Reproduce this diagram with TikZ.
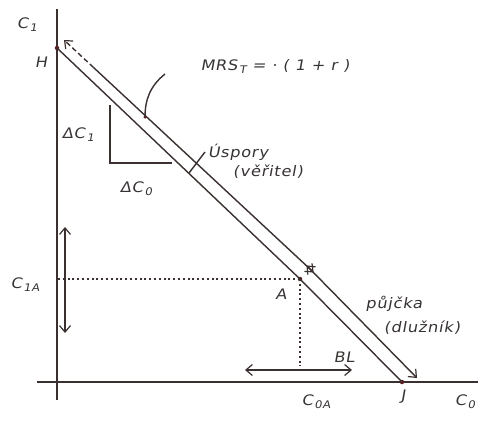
\documentclass[tikz,border=0pt]{standalone}
\usepackage{fontspec}
\setmainfont{Liberation Sans}
\newfontfamily\handfont[FakeStretch=1.12,FakeSlant=0.18,LetterSpace=5]{DejaVu Sans}
\usetikzlibrary{arrows.meta,calc}
\definecolor{ink}{HTML}{3A3030}
\definecolor{dotc}{HTML}{5A2020}
\definecolor{txt}{HTML}{383434}
\newcommand{\sbx}[1]{\kern1.5pt\raisebox{-3pt}{\fontsize{10.5}{12}\selectfont #1}}
\begin{document}
\begin{tikzpicture}[x=1pt,y=-1pt,
  line/.style={draw=ink,line width=1.4pt},
  axis/.style={draw=ink,line width=1.6pt},
  lab/.style={text=txt,font=\fontsize{14.5}{16}\selectfont\handfont,inner sep=0.5pt},
  pt/.style={circle,fill=dotc,inner sep=0pt,minimum size=4.5pt},
  dots/.style={draw=ink,line width=1.4pt,dash pattern=on 2pt off 2.8pt},
  barb/.tip={Straight Barb[length=6.5pt,width=11pt,line width=1.2pt]}]
\useasboundingbox (0,0) rectangle (478,423);
% axes
\coordinate (Ytop) at (57,9);
\coordinate (Ybot) at (57,400);
\coordinate (Xl) at (37,382);
\coordinate (Xr) at (478,382);
\draw[axis] (Ytop) -- (Ybot);
\draw[axis] (Xl) -- (Xr);
% points
\node[pt] (H) at (57,48) {};
\node[pt] (A) at (300,279) {};
\node[pt] (J) at (402,382) {};
% budget line
\draw[line] (H.center) -- (A.center) -- (J.center);
% upper parallel arrows
\coordinate (UH) at (64,40);
\coordinate (UA) at (310,269);
\coordinate (UJ) at (417,378);
\coordinate (UA1) at ($(UA)!-5pt!(UH)$);
\coordinate (UA2) at ($(UA)!-5pt!(UJ)$);
\coordinate (UP) at ($(UH)!0.12!(UA)$);
\draw[line,dash pattern=on 5pt off 3pt,-barb] (UP) -- (UH);
\draw[line,-barb] (UP) -- (UA1);
\draw[line,barb-barb] (UA2) -- (UJ);
% dotted guides
\coordinate (C1Aaxis) at (57,279);
\coordinate (C0Aend) at (300,366);
\draw[dots] (A.center) -- (C1Aaxis);
\draw[dots] (A.center) -- (C0Aend);
% double arrows
\coordinate (va1) at (65,227);
\coordinate (va2) at (65,333);
\draw[line,barb-barb] (va1) -- (va2);
\coordinate (ha1) at (245,370);
\coordinate (ha2) at (352,370);
\draw[line,barb-barb] (ha1) -- (ha2);
% slope triangle
\coordinate (t1) at (110,105);
\coordinate (t2) at (110,163);
\coordinate (t3) at (172,163);
\draw[line] (t1) -- (t2) -- (t3);
% MRS leader
\coordinate (m1) at (165,74);
\node[circle,fill=dotc,inner sep=0pt,minimum size=3.5pt] (m2) at (145,117) {};
\draw[line] (m1) .. controls (150,86) and (145,100) .. (m2.center);
% uspory tick
\coordinate (u1) at (205,152);
\coordinate (u2) at (189,173);
\draw[line] (u1) -- (u2);
% labels
\node[lab] (lC1) at (27,25) {C\sbx{1}};
\node[lab] (lH) at (41,62) {H};
\node[lab] (lMRS) at (275,66) {MRS\sbx{T} = · ( 1 + r )};
\node[lab] (lDC1) at (78,135) {ΔC\sbx{1}};
\node[lab] (lDC0) at (136,189) {ΔC\sbx{0}};
\node[lab] (lUsp) at (238,152) {Úspory};
\node[lab] (lVer) at (268,172) {(věřitel)};
\node[lab] (lC1A) at (25,285) {C\sbx{1A}};
\node[lab] (lA) at (281,294) {A};
\node[lab] (lPuj) at (394,304) {půjčka};
\node[lab] (lDluz) at (422,328) {(dlužník)};
\node[lab] (lBL) at (344,357) {BL};
\node[lab] (lC0A) at (316,402) {C\sbx{0A}};
\node[lab] (lJ) at (403,397) {J};
\node[lab] (lC0) at (465,402) {C\sbx{0}};
\end{tikzpicture}
\end{document}
